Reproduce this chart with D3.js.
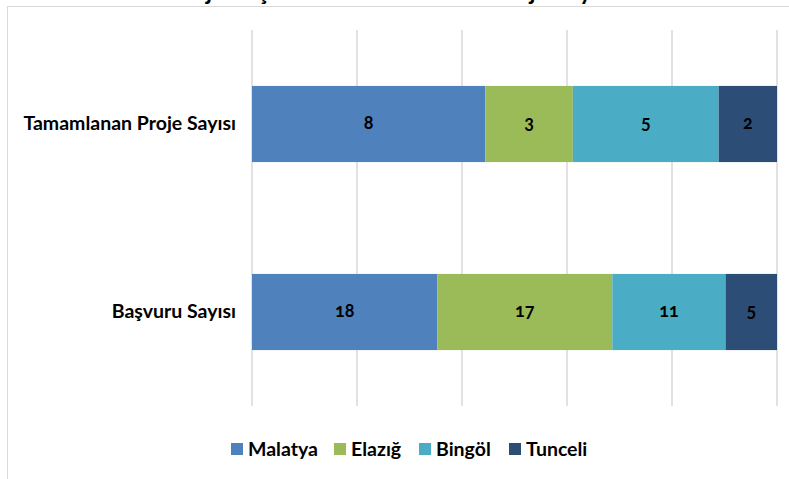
<!DOCTYPE html>
<html>
<head>
<meta charset="utf-8">
<script src="https://cdn.jsdelivr.net/npm/d3@7"></script>
<style>
  body { margin: 0; background: #fff; }
  svg text { font-family: Lato, "Open Sans", sans-serif; font-weight: bold; fill: #000; }
</style>
</head>
<body>
<svg id="chart" width="789" height="479"></svg>
<script>
// data
const categories = ["Tamamlanan Proje Sayısı", "Başvuru Sayısı"];
const series = ["Malatya", "Elazığ", "Bingöl", "Tunceli"];
const values = {
  "Malatya": [8, 18],
  "Elazığ": [3, 17],
  "Bingöl": [5, 11],
  "Tunceli": [2, 5]
};
const colors = ["#4F81BD", "#9BBB59", "#4BACC6", "#2C4D75"];
const ticks = [0, 0.2, 0.4, 0.6, 0.8, 1];

const svg = d3.select("#chart");

// outer chart frame (cropped by the window)
svg.append("rect")
   .attr("x", 7.5).attr("y", 6.5)
   .attr("width", 900).attr("height", 600)
   .attr("fill", "none")
   .attr("stroke", "#d9d9d9");

// cut-off title
svg.append("text")
   .attr("x", 400).attr("y", 0)
   .attr("text-anchor", "middle")
   .style("font-size", "24px")
   .text("Proje Başvuru ve Tamamlanan Proje Sayıları");

const x = d3.scaleLinear().domain([0, 1]).range([252, 777]);
const y = d3.scaleBand().domain(categories).range([30, 406]);
const barH = y.bandwidth() * 0.405;

// grid
svg.append("g")
   .selectAll("line")
   .data(ticks)
   .join("line")
   .attr("x1", d => x(d)).attr("x2", d => x(d))
   .attr("y1", 30).attr("y2", 406)
   .attr("stroke", "#d9d9d9")
   .attr("stroke-width", 1.5);

// stack (100%)
const rows = categories.map((c, i) => {
  const r = { cat: c };
  series.forEach(s => r[s] = values[s][i]);
  return r;
});
const stack = d3.stack().keys(series).offset(d3.stackOffsetExpand);
const layers = stack(rows);

const g = svg.append("g");
layers.forEach((layer, li) => {
  const lg = g.append("g");
  lg.selectAll("rect")
    .data(layer)
    .join("rect")
    .attr("x", d => x(d[0]))
    .attr("width", d => x(d[1]) - x(d[0]))
    .attr("y", d => y(d.data.cat) + (y.bandwidth() - barH) / 2)
    .attr("height", barH)
    .attr("fill", colors[li]);
  lg.selectAll("text")
    .data(layer)
    .join("text")
    .attr("x", d => (x(d[0]) + x(d[1])) / 2)
    .attr("y", d => y(d.data.cat) + y.bandwidth() / 2 + 5)
    .attr("text-anchor", "middle")
    .style("font-size", "18px")
    .style("font-variant-numeric", "oldstyle-nums")
    .text(d => d.data[layer.key]);
});

// category labels
svg.append("g")
   .selectAll("text")
   .data(categories)
   .join("text")
   .attr("x", 236)
   .attr("y", d => y(d) + y.bandwidth() / 2 + 6)
   .attr("text-anchor", "end")
   .style("font-size", "19.5px")
   .text(d => d);

// legend
const legendX = [231, 334, 419, 509];
const legend = svg.append("g")
   .selectAll("g")
   .data(series)
   .join("g")
   .attr("transform", (d, i) => `translate(${legendX[i]},443)`);
legend.append("rect")
   .attr("width", 12).attr("height", 12)
   .attr("fill", (d, i) => colors[i]);
legend.append("text")
   .attr("x", 17).attr("y", 13)
   .style("font-size", "19.5px")
   .text(d => d);
</script>
</body>
</html>
